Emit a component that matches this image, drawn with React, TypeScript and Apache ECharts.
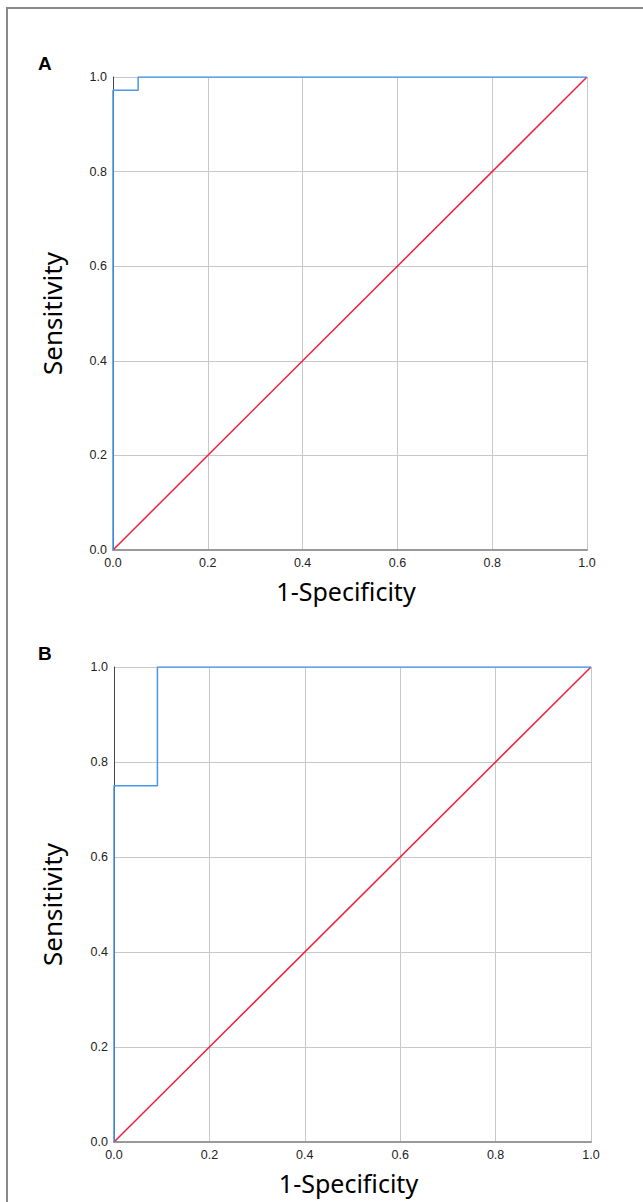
import React, { useEffect, useRef } from "react";
import * as echarts from "echarts";

const ticks = [0, 0.2, 0.4, 0.6, 0.8, 1.0];
const fprA = [0, 0, 0.053, 0.053, 1];
const tprA = [0, 0.972, 0.972, 1, 1];
const fprB = [0, 0, 0.091, 0.091, 1];
const tprB = [0, 0.75, 0.75, 1, 1];
const diagX = [0, 1];
const diagY = [0, 1];
const panelLabels = ["A", "B"];
const xTitle = "1-Specificity";
const yTitle = "Sensitivity";

const grids = [
  { left: 113, top: 77, width: 474, height: 473 },
  { left: 114, top: 667, width: 477, height: 475 },
];

export default function App() {
  const ref = useRef<HTMLDivElement>(null);
  useEffect(() => {
    if (!ref.current) return;
    const chart = echarts.init(ref.current, undefined, { renderer: "svg" });
    const zip = (xs: number[], ys: number[]) => xs.map((x, i) => [x, ys[i]]);
    const axisCommon = {
      type: "value" as const,
      min: ticks[0],
      max: ticks[ticks.length - 1],
      interval: 0.2,
      axisTick: { show: false },
      splitLine: { show: true, lineStyle: { color: "#c8c8c8", width: 1 } },
      axisLabel: {
        fontSize: 12.5,
        color: "#222",
        fontFamily: "Arial, Liberation Sans, sans-serif",
        formatter: (v: number) => v.toFixed(1),
        margin: 6,
      },
    };
    const xAxes = grids.map((_, i) => ({
      ...axisCommon,
      gridIndex: i,
      axisLine: { show: true, lineStyle: { color: "#999", width: 2 } },
    }));
    const yAxes = grids.map((_, i) => ({
      ...axisCommon,
      gridIndex: i,
      axisLine: { show: true, lineStyle: { color: "#444", width: 1 } },
    }));
    const series: any[] = [];
    const rocs = [zip(fprA, tprA), zip(fprB, tprB)];
    grids.forEach((_, i) => {
      series.push({
        type: "line",
        xAxisIndex: i,
        yAxisIndex: i,
        data: zip(diagX, diagY),
        symbol: "none",
        lineStyle: { color: "#f0203a", width: 1.5 },
        z: 3,
      });
      series.push({
        type: "line",
        xAxisIndex: i,
        yAxisIndex: i,
        data: rocs[i],
        symbol: "none",
        lineStyle: { color: "#4797ec", width: 1.5 },
        z: 4,
      });
    });
    const graphics: any[] = [
      {
        type: "rect",
        shape: { x: 7, y: 8, width: 700, height: 1300 },
        style: { fill: "none", stroke: "#888", lineWidth: 2 },
        silent: true,
      },
    ];
    grids.forEach((g, i) => {
      graphics.push({
        type: "text",
        x: 38,
        y: g.top - 14,
        style: {
          text: panelLabels[i],
          font: "bold 19px Arial, Liberation Sans, sans-serif",
          fill: "#000",
          textVerticalAlign: "middle",
        },
      });
      graphics.push({
        type: "text",
        x: g.left + g.width / 2 - 4,
        y: g.top + g.height + 41,
        style: {
          text: xTitle,
          font: "25px 'Noto Sans', sans-serif",
          fill: "#000",
          textAlign: "center",
          textVerticalAlign: "middle",
        },
      });
      graphics.push({
        type: "text",
        x: 52,
        y: g.top + g.height / 2,
        rotation: Math.PI / 2,
        style: {
          text: yTitle,
          font: "26px 'Noto Sans', sans-serif",
          fill: "#000",
          textAlign: "center",
          textVerticalAlign: "middle",
        },
      });
    });
    chart.setOption({
      animation: false,
      backgroundColor: "#fff",
      grid: grids.map((g) => ({ ...g, containLabel: false })),
      xAxis: xAxes,
      yAxis: yAxes,
      series,
      graphic: graphics,
    });
    return () => chart.dispose();
  }, []);
  return (
    <div
      ref={ref}
      style={{ position: "fixed", left: 0, top: 0, width: 643, height: 1202 }}
    />
  );
}
